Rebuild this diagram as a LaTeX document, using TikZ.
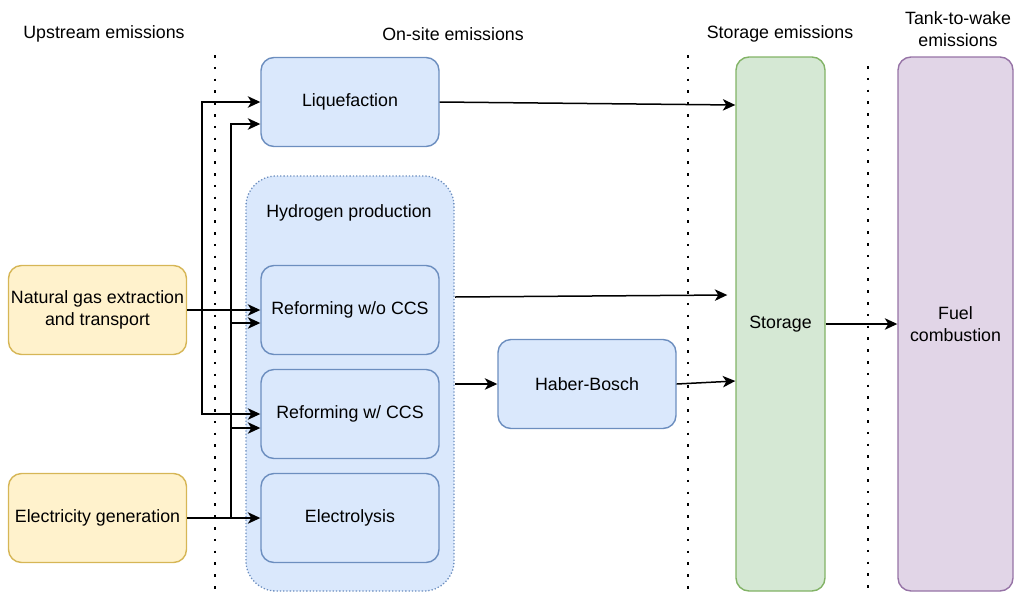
\documentclass[tikz,border=0pt]{standalone}
\usepackage{fontspec}
\setmainfont{Liberation Sans}
\usetikzlibrary{arrows.meta}
\definecolor{procF}{HTML}{DAE8FC}
\definecolor{procD}{HTML}{6C8EBF}
\definecolor{srcF}{HTML}{FFF2CC}
\definecolor{srcD}{HTML}{D6B656}
\definecolor{storF}{HTML}{D5E8D4}
\definecolor{storD}{HTML}{82B366}
\definecolor{useF}{HTML}{E1D5E7}
\definecolor{useD}{HTML}{9673A6}
\tikzset{
  proc/.style={draw=procD, fill=procF, line width=1.4pt, rounded corners=13pt,
    minimum width=178pt, minimum height=89pt, inner sep=0pt, align=center},
  src/.style={proc, draw=srcD, fill=srcF},
  tall/.style={draw=#1, line width=1.4pt, rounded corners=13pt,
    minimum height=534pt, inner sep=0pt, align=center},
  group/.style={draw=procD, fill=procF, line width=1.3pt, dash pattern=on 1.3pt off 2pt,
    rounded corners=30pt},
  sep/.style={line width=2.6pt, dash pattern=on 2.6pt off 9.2pt},
  arr/.style={line width=1.5pt, -{Stealth[length=12.5pt,width=11.5pt,inset=3.5pt]}},
  hdr/.style={align=center, inner sep=0pt}
}
\begin{document}
\begin{tikzpicture}[x=1pt, y=-1pt, font=\fontsize{17.8}{21.5}\selectfont]
\useasboundingbox (0,0) rectangle (1014,592);

% column headings
\node[hdr] (hUp) at (104,34) {Upstream emissions};
\node[hdr] (hOn) at (453,34) {On-site emissions};
\node[hdr] (hSt) at (780,34) {Storage emissions};
\node[hdr] (hTw) at (958,29) {Tank-to-wake\\emissions};

% column separators
\draw[sep] (215,55) -- (215,592);
\draw[sep] (688,55) -- (688,592);
\draw[sep] (868,66) -- (868,592);

% hydrogen production group
\draw[group] (246,176) rectangle (454,591);
\node[hdr] (h2lbl) at (349,213) {Hydrogen production};
\coordinate (h2e) at (455,384);

% process boxes
\node[proc] (liq) at (350,102) {Liquefaction};
\node[proc] (rwo) at (350,310) {Reforming w/o CCS};
\node[proc] (rwc) at (350,414) {Reforming w/ CCS};
\node[proc] (ely) at (350,518) {Electrolysis};
\node[proc] (hb)  at (587,384) {Haber-Bosch};

% upstream sources
\node[src] (gas) at (97.5,310) {Natural gas extraction\\and transport};
\node[src] (elg) at (97.5,518) {Electricity generation};

% storage and end use
\node[tall=storD, fill=storF, minimum width=89pt] (stor) at (780.5,324) {Storage};
\node[tall=useD, fill=useF, minimum width=115pt] (fuel) at (955.5,324) {Fuel\\combustion};

% natural gas supply
\draw[arr] (gas.east) -- (rwo.west);
\draw[arr] (gas.east) -- (202,310) |- (liq.west);
\draw[arr] (gas.east) -- (202,310) |- (rwc.west);

% electricity supply
\draw[arr] (elg.east) -- (ely.west);
\draw[arr] (elg.east) -- (231,518) |- ([yshift=-22pt]liq.west);
\draw[arr] (elg.east) -- (231,518) |- ([yshift=-13pt]rwo.west);
\draw[arr] (elg.east) -- (231,518) |- ([yshift=-14pt]rwc.west);

% products to storage
\draw[arr] (liq.east) -- ([yshift=-3pt]stor.west |- liq.east);
\draw[arr] (h2e |- 0,297) -- ([xshift=-8pt]stor.west |- 0,295);
\draw[arr] (h2e) -- (hb.west);
\draw[arr] (hb.east) -- (stor.west |- 0,381);
\draw[arr] (stor.east) -- (fuel.west);
\end{tikzpicture}
\end{document}
